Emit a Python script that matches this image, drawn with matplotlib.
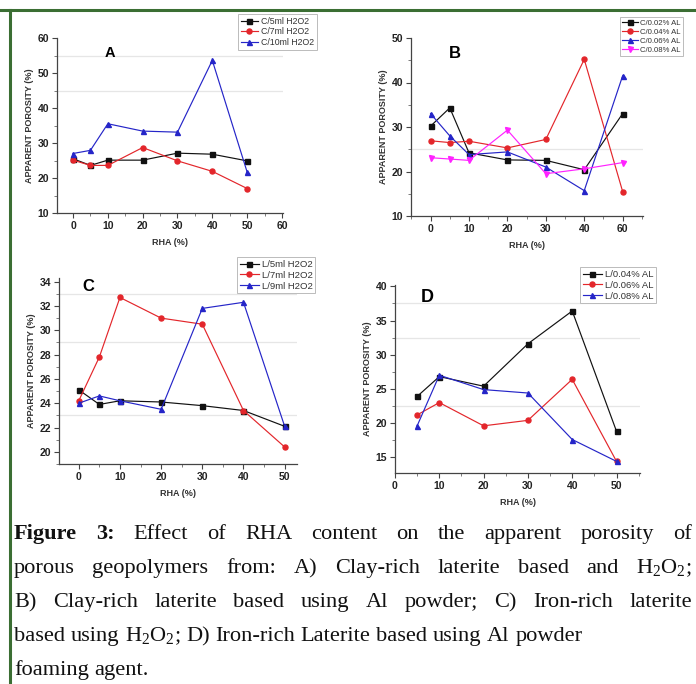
import matplotlib
matplotlib.use("Agg")
import matplotlib.pyplot as plt
from matplotlib.ticker import MultipleLocator, FixedLocator, FixedFormatter

plt.rcParams['font.family'] = ['Liberation Sans', 'DejaVu Sans']
plt.rcParams['mathtext.fontset'] = 'custom'
plt.rcParams['mathtext.rm'] = 'Liberation Serif'
plt.rcParams['mathtext.it'] = 'Liberation Serif:italic'
plt.rcParams['mathtext.bf'] = 'Liberation Serif:bold'

# values
rha = [0, 5, 10, 20, 30, 40, 50]
rha_d = [5, 10, 20, 30, 40, 50]

a_5ml = [25.5, 23.6, 25.1, 25.1, 27.1, 26.8, 24.9]
a_7ml = [25.1, 23.6, 23.6, 28.7, 24.9, 21.9, 17.0]
a_10ml = [27.0, 27.9, 35.5, 33.4, 33.1, 53.6, 21.7]
a_labels = ["C/5ml H2O2", "C/7ml H2O2", "C/10ml H2O2"]

b_002 = [30.2, 34.3, 24.2, 22.6, 22.5, 20.4, 33.0]
b_004 = [26.9, 26.5, 26.8, 25.3, 27.2, 45.2, 15.5]
b_006 = [33.0, 28.0, 23.8, 24.4, 21.0, 15.7, 41.5]
b_008 = [23.1, 22.8, 22.5, 29.3, 19.5, 20.6, 22.0]
b_labels = ["C/0.02% AL", "C/0.04% AL", "C/0.06% AL", "C/0.08% AL"]
b_xticklabels = ["0", "10", "20", "30", "40", "60"]

c_5ml = [25.1, 23.9, 24.2, 24.1, 23.8, 23.4, 22.1]
c_7ml = [24.2, 27.8, 32.7, 31.0, 30.5, 23.4, 20.4]
c_9ml = [24.0, 24.6, 24.2, 23.5, 31.8, 32.3, 22.1]
c_labels = ["L/5ml H2O2", "L/7ml H2O2", "L/9ml H2O2"]

d_004 = [23.9, 26.8, 25.4, 31.6, 36.4, 18.8]
d_006 = [21.2, 23.0, 19.6, 20.4, 26.4, 14.4]
d_008 = [19.6, 27.0, 24.9, 24.4, 17.6, 14.4]
d_labels = ["L/0.04% AL", "L/0.06% AL", "L/0.08% AL"]

caption = [
    ([("Figure", "bold"), ("3:", "bold"), "Effect", "of", "RHA", "content", "on",
      "the", "apparent", "porosity", "of"], True),
    (["porous", "geopolymers", "from:", "A)", "Clay-rich", "laterite", "based",
      "and", "H$_2$O$_2$;"], True),
    (["B)", "Clay-rich", "laterite", "based", "using", "Al", "powder;", "C)",
      "Iron-rich", "laterite"], True),
    (["based", "using", "H$_2$O$_2$;", "D)", "Iron-rich", "Laterite", "based",
      "using", "Al", "powder"], False),
    (["foaming", "agent."], False),
]

BLACK, RED, BLUE, MAGENTA = "#111111", "#e3262b", "#2525c8", "#ff22ff"
W, H = 696, 684

fig = plt.figure(figsize=(W / 100, H / 100), dpi=100)


def px_axes(left, top, right, bottom):
    return fig.add_axes([left / W, 1 - bottom / H, (right - left) / W, (bottom - top) / H])


def style(ax, xlim, ylim, xmaj, ymaj, ymin, faint):
    ax.set_xlim(*xlim)
    ax.set_ylim(*ylim)
    for s in ("top", "right"):
        ax.spines[s].set_visible(False)
    for s in ("left", "bottom"):
        ax.spines[s].set_color("#444444")
        ax.spines[s].set_linewidth(0.9)
    ax.xaxis.set_major_locator(MultipleLocator(xmaj))
    ax.xaxis.set_minor_locator(MultipleLocator(5))
    ax.yaxis.set_major_locator(MultipleLocator(ymaj))
    ax.yaxis.set_minor_locator(MultipleLocator(ymin))
    ax.tick_params(which="major", length=3.5, width=0.8, color="#444444",
                   labelsize=7.5, pad=2)
    ax.tick_params(which="minor", length=2, width=0.6, color="#666666")
    for lab in ax.get_xticklabels() + ax.get_yticklabels():
        lab.set_fontweight("bold")
        lab.set_color("#222222")
    ax.set_xlabel("RHA (%)", fontsize=6.5, fontweight="bold", color="#333333", labelpad=5)
    ax.set_ylabel("APPARENT POROSITY (%)", fontsize=6.5, fontweight="bold",
                  color="#333333", labelpad=3)
    for yv in faint:
        ax.axhline(yv, color="#e6e6e6", lw=0.9, zorder=0)


def series(ax, x, y, color, marker, label):
    ax.plot(x, y, color=color, lw=0.85, marker=marker, ms=3.6, mfc=color,
            mec=color, label=label)


def legend(ax, x, y, fs):
    leg = ax.legend(loc="upper left", bbox_to_anchor=(x / W, 1 - y / H),
                    bbox_transform=fig.transFigure, borderaxespad=0, fontsize=fs,
                    handlelength=2.0, handletextpad=0.3, labelspacing=0.2,
                    borderpad=0.3, fancybox=False, framealpha=1)
    leg.get_frame().set_edgecolor("#bbbbbb")
    leg.get_frame().set_linewidth(0.7)
    for t in leg.get_texts():
        t.set_color("#333333")


# panel A
axA = px_axes(57, 38, 283, 213)
series(axA, rha, a_5ml, BLACK, "s", a_labels[0])
series(axA, rha, a_7ml, RED, "o", a_labels[1])
series(axA, rha, a_10ml, BLUE, "^", a_labels[2])
style(axA, (-4.6, 60.3), (10, 60), 10, 10, 5, [55, 45])
legend(axA, 238, 14, 6.3)
fig.text(110 / W, 1 - 53 / H, "A", fontsize=10.5, fontweight="bold", ha="center", va="center")

# panel B
axB = px_axes(411, 38, 643, 216)
series(axB, rha, b_002, BLACK, "s", b_labels[0])
series(axB, rha, b_004, RED, "o", b_labels[1])
series(axB, rha, b_006, BLUE, "^", b_labels[2])
series(axB, rha, b_008, MAGENTA, "v", b_labels[3])
style(axB, (-5.1, 55.3), (10, 50), 10, 10, 5, [25])
axB.xaxis.set_major_locator(FixedLocator(rha[:1] + rha[2:]))
axB.xaxis.set_major_formatter(FixedFormatter(b_xticklabels))
for lab in axB.get_xticklabels():
    lab.set_fontweight("bold")
legend(axB, 620, 17, 5.6)
fig.text(455 / W, 1 - 53 / H, "B", fontsize=12, fontweight="bold", ha="center", va="center")

# panel C
axC = px_axes(59, 278, 297, 464)
series(axC, rha, c_5ml, BLACK, "s", c_labels[0])
series(axC, rha, c_7ml, RED, "o", c_labels[1])
series(axC, rha, c_9ml, BLUE, "^", c_labels[2])
style(axC, (-4.8, 53), (19, 34.3), 10, 2, 1, [33, 29, 23])
legend(axC, 237, 257, 6.8)
fig.text(88 / W, 1 - 287 / H, "C", fontsize=12, fontweight="bold", ha="center", va="center")

# panel D
axD = px_axes(395, 285, 640, 473)
series(axD, rha_d, d_004, BLACK, "s", d_labels[0])
series(axD, rha_d, d_006, RED, "o", d_labels[1])
series(axD, rha_d, d_008, BLUE, "^", d_labels[2])
style(axD, (0, 55.3), (12.7, 40.2), 10, 5, 2.5, [37.5, 32.5, 22.5])
legend(axD, 580, 267, 6.8)
fig.text(427 / W, 1 - 298 / H, "D", fontsize=13, fontweight="bold", ha="center", va="center")

# green frame lines (top and left)
fig.add_artist(plt.Line2D([0, 1], [1 - 10 / H] * 2, color="#3b6e33", lw=2.2,
                          transform=fig.transFigure))
fig.add_artist(plt.Line2D([10 / W] * 2, [0, 1 - 10 / H], color="#3b6e33", lw=2.2,
                          transform=fig.transFigure))

# caption, set word by word so justified lines fill the width
renderer = fig.canvas.get_renderer()
x0, x1 = 14, 692
baselines = [539, 573, 607, 641, 675]


def words_of(line):
    return [(w, "normal") if isinstance(w, str) else w for w in line]


def measure(s, fs, wt):
    t = fig.text(0, 0, s, fontsize=fs, family="Liberation Serif", fontweight=wt)
    w = t.get_window_extent(renderer).width
    t.remove()
    return w


probe = words_of(caption[3][0])
base = sum(measure(w, 10, wt) for w, wt in probe)
sp10 = measure("a a", 10, "normal") - measure("aa", 10, "normal")
natural10 = base + sp10 * (len(probe) - 1)
cap_fs = 10 * (582 - x0) / natural10

space = measure("a a", cap_fs, "normal") - measure("aa", cap_fs, "normal")
for (line, justify), yb in zip(caption, baselines):
    ws = words_of(line)
    texts, widths = [], []
    for w, wt in ws:
        t = fig.text(0, 1 - yb / H, w, fontsize=cap_fs, family="Liberation Serif",
                     fontweight=wt, va="baseline", color="#111111")
        texts.append(t)
        widths.append(t.get_window_extent(renderer).width)
    gap = (x1 - x0 - sum(widths)) / (len(ws) - 1) if justify else space
    x = x0
    for t, w in zip(texts, widths):
        t.set_x(x / W)
        x += w + gap

fig.savefig("out.png", dpi=100)
